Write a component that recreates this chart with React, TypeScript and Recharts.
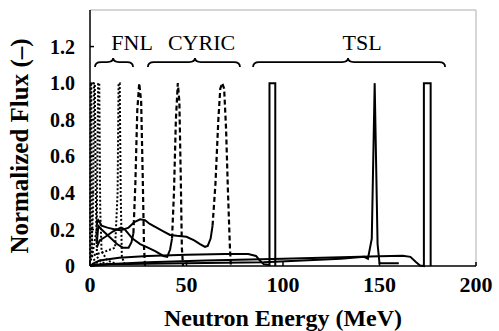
import React from 'react';
import { LineChart, Line, XAxis, YAxis, ReferenceLine } from 'recharts';

type Pt = { e: number; f: number };

const serif = 'Liberation Serif, DejaVu Serif, Times New Roman, Times, serif';

const energyTicks = [0, 50, 100, 150, 200];
const fluxTicks = [0, 0.2, 0.4, 0.6, 0.8, 1.0, 1.2];

// FNL quasi-monoenergetic spectra (dotted)
const fnl1: Pt[] = [
  { e: 0, f: 0.02 }, { e: 0.2, f: 0.6 }, { e: 0.4, f: 1.0 }, { e: 0.7, f: 1.0 },
  { e: 0.9, f: 0.3 }, { e: 1.2, f: 0.05 }, { e: 3, f: 0.02 }, { e: 6, f: 0.01 },
];
const fnl2: Pt[] = [
  { e: 0.5, f: 0.03 }, { e: 1.6, f: 0.3 }, { e: 2.1, f: 1.0 }, { e: 2.5, f: 1.0 },
  { e: 3.0, f: 0.4 }, { e: 3.6, f: 0.05 }, { e: 6, f: 0.02 }, { e: 10, f: 0.01 },
];
const fnl3: Pt[] = [
  { e: 1, f: 0.05 }, { e: 3.5, f: 0.2 }, { e: 4.2, f: 1.0 }, { e: 4.8, f: 1.0 },
  { e: 5.3, f: 0.3 }, { e: 6, f: 0.08 }, { e: 9, f: 0.03 }, { e: 14, f: 0.01 },
];
const fnl4: Pt[] = [
  { e: 2, f: 0.06 }, { e: 8, f: 0.08 }, { e: 13, f: 0.1 }, { e: 14.3, f: 0.4 },
  { e: 14.8, f: 1.0 }, { e: 15.4, f: 1.0 }, { e: 15.9, f: 0.4 }, { e: 16.5, f: 0.05 },
  { e: 18, f: 0.01 },
];

// CYRIC spectra: low-energy tail (solid) + peak (dashed)
const cyric25Tail: Pt[] = [
  { e: 3.5, f: 0.12 }, { e: 4.3, f: 0.22 }, { e: 6, f: 0.2 }, { e: 10, f: 0.16 },
  { e: 14, f: 0.12 }, { e: 17, f: 0.1 }, { e: 20, f: 0.1 }, { e: 21.5, f: 0.13 },
  { e: 22.5, f: 0.18 },
];
const cyric25Peak: Pt[] = [
  { e: 22.5, f: 0.18 }, { e: 23.5, f: 0.45 }, { e: 24.5, f: 0.85 }, { e: 25.5, f: 1.0 },
  { e: 26.5, f: 0.9 }, { e: 27.3, f: 0.5 }, { e: 28, f: 0.1 }, { e: 28.5, f: 0 },
];
const cyric45Tail: Pt[] = [
  { e: 3.5, f: 0.1 }, { e: 5, f: 0.14 }, { e: 8, f: 0.16 }, { e: 12, f: 0.19 },
  { e: 16, f: 0.21 }, { e: 18, f: 0.2 }, { e: 22, f: 0.15 }, { e: 26, f: 0.12 },
  { e: 30, f: 0.1 }, { e: 34, f: 0.08 }, { e: 38, f: 0.055 }, { e: 40, f: 0.05 },
  { e: 41.5, f: 0.09 }, { e: 42.5, f: 0.15 },
];
const cyric45Peak: Pt[] = [
  { e: 42.5, f: 0.15 }, { e: 43.5, f: 0.4 }, { e: 44.5, f: 0.8 }, { e: 45.5, f: 1.0 },
  { e: 46.3, f: 0.9 }, { e: 47, f: 0.5 }, { e: 47.6, f: 0.1 }, { e: 48.2, f: 0 },
];
const cyric70Tail: Pt[] = [
  { e: 3.5, f: 0.23 }, { e: 4.3, f: 0.25 }, { e: 5, f: 0.24 }, { e: 6, f: 0.22 },
  { e: 9, f: 0.21 }, { e: 13, f: 0.2 }, { e: 16, f: 0.195 }, { e: 20, f: 0.21 },
  { e: 23, f: 0.24 }, { e: 26, f: 0.255 }, { e: 28.5, f: 0.25 }, { e: 31, f: 0.23 },
  { e: 34.5, f: 0.21 }, { e: 38, f: 0.19 }, { e: 41.5, f: 0.17 }, { e: 45, f: 0.165 },
  { e: 50, f: 0.16 }, { e: 54, f: 0.14 }, { e: 57, f: 0.12 }, { e: 59.6, f: 0.105 },
  { e: 61, f: 0.11 }, { e: 62.5, f: 0.15 }, { e: 63.5, f: 0.22 },
];
const cyric70Peak: Pt[] = [
  { e: 63.5, f: 0.22 }, { e: 65, f: 0.45 }, { e: 66.5, f: 0.8 }, { e: 67.5, f: 0.97 },
  { e: 68.5, f: 1.0 }, { e: 69.5, f: 0.97 }, { e: 70.5, f: 0.75 }, { e: 71.5, f: 0.4 },
  { e: 72.5, f: 0.1 }, { e: 73, f: 0 },
];

// TSL spectra (solid)
const tsl95: Pt[] = [
  { e: 1, f: 0.01 }, { e: 5, f: 0.03 }, { e: 15, f: 0.045 }, { e: 30, f: 0.055 },
  { e: 50, f: 0.062 }, { e: 70, f: 0.065 }, { e: 82, f: 0.065 }, { e: 86, f: 0.055 },
  { e: 88, f: 0.03 }, { e: 90, f: 0.01 }, { e: 93, f: 0.005 }, { e: 93, f: 1.0 },
  { e: 96, f: 1.0 }, { e: 96, f: 0.0 },
];
const tsl150: Pt[] = [
  { e: 0, f: 0.0 }, { e: 10, f: 0.01 }, { e: 50, f: 0.015 }, { e: 90, f: 0.02 },
  { e: 110, f: 0.03 }, { e: 130, f: 0.04 }, { e: 142, f: 0.05 }, { e: 144, f: 0.04 },
  { e: 146, f: 0.15 }, { e: 147.5, f: 1.0 }, { e: 149, f: 0.12 }, { e: 150, f: 0.015 },
  { e: 160, f: 0.015 },
];
const tsl175: Pt[] = [
  { e: 0, f: 0.005 }, { e: 30, f: 0.02 }, { e: 60, f: 0.03 }, { e: 100, f: 0.04 },
  { e: 130, f: 0.048 }, { e: 150, f: 0.054 }, { e: 162, f: 0.056 }, { e: 166, f: 0.05 },
  { e: 169, f: 0.02 }, { e: 171, f: 0.003 }, { e: 173, f: 0 }, { e: 173, f: 1.0 },
  { e: 176.5, f: 1.0 }, { e: 176.5, f: 0 },
];

// facility brackets above the peaks
const groups = ['FNL', 'CYRIC', 'TSL'];
const groupFrom = [2.6, 30, 84.5];
const groupTo = [22.3, 77.7, 184];
const groupTip = [12, 54.4, 133.7];
const groupLabelAt = [21.8, 57.8, 141];

const W = 499;
const H = 331;
const M = { top: 10, right: 23, bottom: 0, left: 0 };
const Y_W = 90;
const X_H = 65;
const X_MAX = 200;
const Y_MAX = 1.4;

const px = (e: number) => M.left + Y_W + (e / X_MAX) * (W - M.left - Y_W - M.right);
const py = (f: number) => H - M.bottom - X_H - (f / Y_MAX) * (H - M.top - M.bottom - X_H);

const Braces = () => (
  <g>
    {groups.map((g, i) => {
      const x1 = px(groupFrom[i]);
      const x2 = px(groupTo[i]);
      const xm = px(groupTip[i]);
      const y = py(1.115);
      const d = `M${x1},${y + 5} Q${x1},${y} ${x1 + 6},${y} L${xm - 6},${y} Q${xm},${y} ${xm},${y - 4} Q${xm},${y} ${xm + 6},${y} L${x2 - 6},${y} Q${x2},${y} ${x2},${y + 5}`;
      return (
        <g key={g}>
          <path d={d} fill="none" stroke="#000" strokeWidth={1.8} />
          <text x={px(groupLabelAt[i])} y={py(1.18)} textAnchor="middle" style={{ fontFamily: serif, fontSize: 22 }} fill="#000">
            {g}
          </text>
        </g>
      );
    })}
  </g>
);

const dotted = [fnl1, fnl2, fnl3, fnl4];
const dashed = [cyric25Peak, cyric45Peak, cyric70Peak];
const solid = [cyric25Tail, cyric45Tail, cyric70Tail, tsl95, tsl150, tsl175];

const App = () => {
  return (
    <div style={{ position: 'absolute', left: 0, top: 0, fontFamily: serif }}>
      <LineChart width={W} height={H} margin={M} style={{ fontFamily: serif }}>
        <XAxis
          type="number"
          dataKey="e"
          domain={[0, X_MAX]}
          ticks={energyTicks}
          interval={0}
          height={X_H}
          stroke="#000"
          strokeWidth={1.5}
          tickSize={-4}
          tickMargin={14}
          tick={{ fill: '#000', fontSize: 22, fontWeight: 'bold', style: { fontFamily: serif } }}
          label={{
            value: 'Neutron Energy (MeV)',
            position: 'insideBottom',
            offset: 5,
            fill: '#000',
            fontSize: 24,
            fontWeight: 'bold',
            style: { fontFamily: serif },
          }}
        />
        <YAxis
          type="number"
          dataKey="f"
          domain={[0, Y_MAX]}
          ticks={fluxTicks}
          interval={0}
          width={Y_W}
          stroke="#000"
          strokeWidth={1.5}
          tickSize={-4}
          tickMargin={19}
          tickFormatter={(v: number) => (v === 0 ? '0' : v.toFixed(1))}
          tick={{ fill: '#000', fontSize: 20, fontWeight: 'bold', style: { fontFamily: serif } }}
          label={{
            content: () => (
              <text
                x={19}
                y={146}
                transform="rotate(-90 19 146)"
                textAnchor="middle"
                dominantBaseline="central"
                style={{ fontFamily: serif, fontSize: 25, fontWeight: 'bold' }}
                fill="#000"
              >
                Normalized Flux (–)
              </text>
            ),
          }}
        />
        <ReferenceLine y={Y_MAX} stroke="#c8c8c8" strokeWidth={1.5} />
        <ReferenceLine x={X_MAX} stroke="#c8c8c8" strokeWidth={1.5} />
        {solid.map((d, i) => (
          <Line key={'s' + i} data={d} dataKey="f" type="linear" stroke="#000" strokeWidth={2} dot={false} isAnimationActive={false} />
        ))}
        {dashed.map((d, i) => (
          <Line key={'d' + i} data={d} dataKey="f" type="linear" stroke="#000" strokeWidth={2.2} strokeDasharray="5 3" dot={false} isAnimationActive={false} />
        ))}
        {dotted.map((d, i) => (
          <Line key={'p' + i} data={d} dataKey="f" type="linear" stroke="#000" strokeWidth={2} strokeDasharray="2 2" dot={false} isAnimationActive={false} />
        ))}
        <Braces />
      </LineChart>
    </div>
  );
};

export default App;
